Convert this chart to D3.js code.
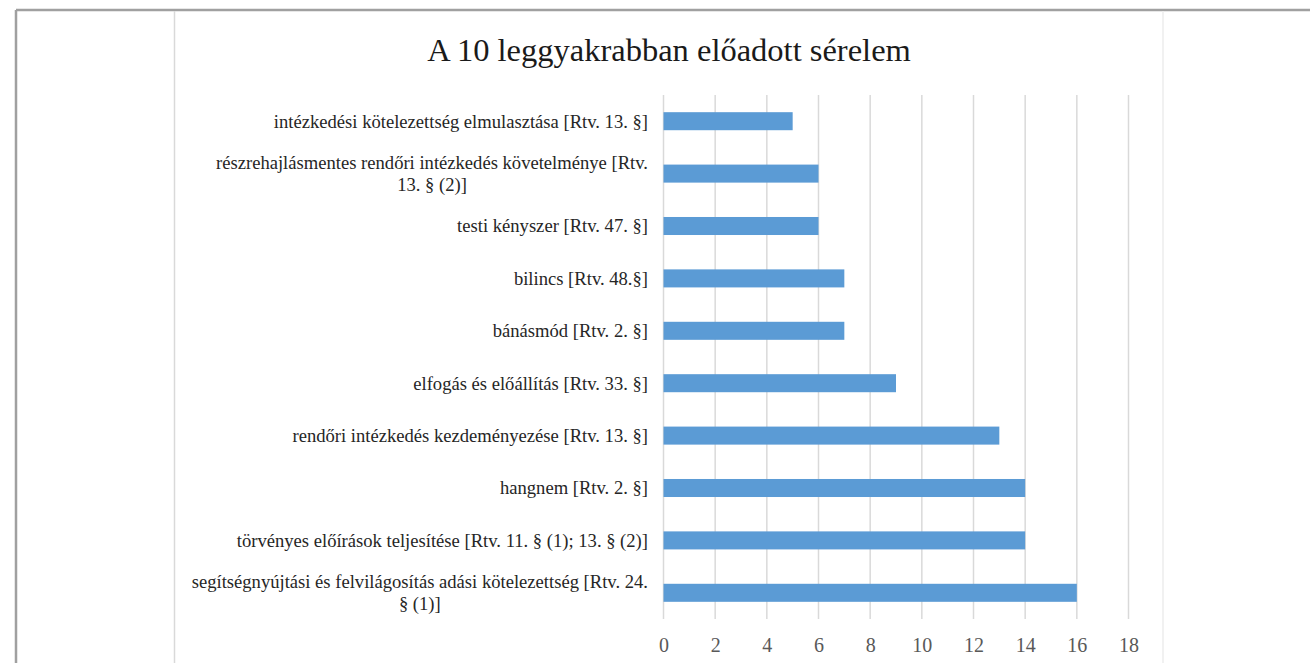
<!DOCTYPE html>
<html>
<head>
<meta charset="utf-8">
<script src="https://cdn.jsdelivr.net/npm/d3@7/dist/d3.min.js"></script>
<style>
  html, body { margin: 0; padding: 0; background: #fff; }
  svg { display: block; }
  svg text { font-family: "Liberation Serif", "Tinos", "Times New Roman", "DejaVu Serif", serif; }
</style>
</head>
<body>
<svg id="chart" width="1310" height="663"></svg>
<script>
const title = "A 10 leggyakrabban előadott sérelem";
const categories = [
  "intézkedési kötelezettség elmulasztása [Rtv. 13. §]",
  "részrehajlásmentes rendőri intézkedés követelménye [Rtv.\n13. § (2)]",
  "testi kényszer [Rtv. 47. §]",
  "bilincs [Rtv. 48.§]",
  "bánásmód [Rtv. 2. §]",
  "elfogás és előállítás [Rtv. 33. §]",
  "rendőri intézkedés kezdeményezése [Rtv. 13. §]",
  "hangnem [Rtv. 2. §]",
  "törvényes előírások teljesítése [Rtv. 11. § (1); 13. § (2)]",
  "segítségnyújtási és felvilágosítás adási kötelezettség [Rtv. 24.\n§ (1)]"
];
const values = [5, 6, 6, 7, 7, 9, 13, 14, 14, 16];
const xTicks = [0, 2, 4, 6, 8, 10, 12, 14, 16, 18];

const svg = d3.select("#chart");
const W = 1310, H = 663;

// outer frame
svg.append("line").attr("x1", 16).attr("x2", W).attr("y1", 10).attr("y2", 10)
  .attr("stroke", "#a0a0a0").attr("stroke-width", 2.5);
svg.append("line").attr("x1", 16).attr("x2", 16).attr("y1", 10).attr("y2", H)
  .attr("stroke", "#a0a0a0").attr("stroke-width", 2.5);
// inner chart-area edges
svg.append("line").attr("x1", 174.5).attr("x2", 174.5).attr("y1", 11).attr("y2", H)
  .attr("stroke", "#d9d9d9").attr("stroke-width", 1.5);
svg.append("line").attr("x1", 1163).attr("x2", 1163).attr("y1", 11).attr("y2", H)
  .attr("stroke", "#ececec").attr("stroke-width", 1.5);

const plotLeft = 663.5, plotRight = 1128.5, plotTop = 95, plotBottom = 619;

const x = d3.scaleLinear().domain([0, 18]).range([plotLeft, plotRight]);
const y = d3.scaleBand().domain(categories).range([plotTop, plotBottom]).paddingInner(0.656).paddingOuter(0.328);

// gridlines
svg.append("g").selectAll("line").data(xTicks).join("line")
  .attr("x1", d => x(d)).attr("x2", d => x(d))
  .attr("y1", plotTop).attr("y2", plotBottom)
  .attr("stroke", "#d9d9d9").attr("stroke-width", 1.5);

// bars
svg.append("g").selectAll("rect").data(categories).join("rect")
  .attr("x", x(0))
  .attr("y", d => y(d))
  .attr("width", (d, i) => x(values[i]) - x(0))
  .attr("height", y.bandwidth())
  .attr("fill", "#5b9bd5");

// x axis labels
const xAxis = d3.axisBottom(x).tickValues(xTicks).tickSize(0).tickPadding(0).tickFormat(d3.format("d"));
const gx = svg.append("g").attr("transform", `translate(0, ${plotBottom})`).call(xAxis);
gx.select(".domain").remove();
gx.attr("font-family", null).attr("font-size", null);
gx.selectAll("text")
  .attr("y", 26).attr("dy", "0.34em")
  .style("font-size", "20px").attr("fill", "#595959");

// category labels
const labelRight = 648;
const lineH = 22;
const lg = svg.append("g");
categories.forEach((c, i) => {
  const lines = c.split("\n");
  const cy = y(c) + y.bandwidth() / 2;
  const t = lg.append("text")
    .style("font-size", "18.6px").attr("fill", "#262626");
  const spans = lines.map((ln, k) => t.append("tspan").text(ln)
    .attr("y", cy + (k - (lines.length - 1) / 2) * lineH).attr("dy", "0.34em"));
  const widths = spans.map(s => s.node().getComputedTextLength());
  const maxW = d3.max(widths);
  if (lines.length === 1) {
    t.attr("text-anchor", "end");
    spans[0].attr("x", labelRight);
  } else {
    t.attr("text-anchor", "middle");
    spans.forEach(s => s.attr("x", labelRight - maxW / 2));
  }
});

// title
svg.append("text").attr("x", 669).attr("y", 49).attr("dy", "0.36em")
  .attr("text-anchor", "middle")
  .style("font-size", "32.5px").attr("fill", "#1a1a1a")
  .text(title);
</script>
</body>
</html>
